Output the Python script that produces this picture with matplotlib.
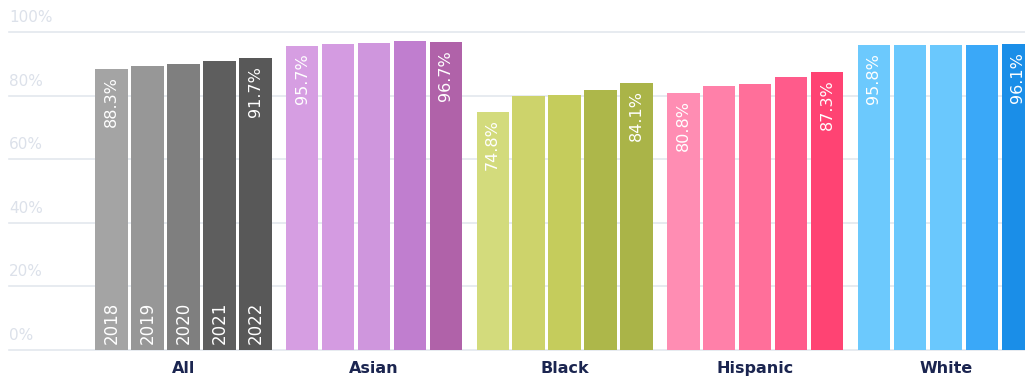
import matplotlib.pyplot as plt

groups = ["All", "Asian", "Black", "Hispanic", "White"]
years = ["2018", "2019", "2020", "2021", "2022"]

rates_all = [88.3, 89.4, 90.0, 91.0, 91.7]
rates_asian = [95.7, 96.2, 96.5, 97.2, 96.7]
rates_black = [74.8, 79.9, 80.2, 81.9, 84.1]
rates_hispanic = [80.8, 82.9, 83.7, 85.8, 87.3]
rates_white = [95.8, 95.9, 96.0, 95.9, 96.1]

colors_all = ["#a4a4a4", "#979797", "#7f7f7f", "#5e5e5e", "#585858"]
colors_asian = ["#d69ee2", "#d49be1", "#cf96dd", "#c07ecf", "#b062a9"]
colors_black = ["#d3db7c", "#cdd36b", "#c5cc5c", "#adb74a", "#aab448"]
colors_hispanic = ["#ff8db3", "#ff80a9", "#ff6f9a", "#ff5b8b", "#ff4373"]
colors_white = ["#6cc9fd", "#6ac8fd", "#6ac8fd", "#3aa8f8", "#1a8ee8"]

all_rates = [rates_all, rates_asian, rates_black, rates_hispanic, rates_white]
all_colors = [colors_all, colors_asian, colors_black, colors_hispanic, colors_white]

fig = plt.figure(figsize=(10.25, 3.83), dpi=100)
ax = fig.add_axes([0, 33 / 383, 1, 318 / 383])
ax.set_xlim(-3.1, 25.4)
ax.set_ylim(0, 100)
ax.axis("off")

# gridlines + light labels
for v in range(0, 101, 20):
    ax.plot([-2.85, 25.4], [v, v], color="#e3e7ee", lw=1.2, zorder=0, clip_on=False)
    ax.text(-2.85, v + 2.2, f"{v}%", color="#dce1ea", fontsize=11, ha="left", va="bottom")

gap = 5.3
for i, name in enumerate(groups):
    xs = [i * gap + j for j in range(5)]
    bars = ax.bar(xs, all_rates[i], width=0.9, color=all_colors[i], zorder=2)
    for j, b in enumerate(bars):
        if i == 0:
            ax.text(xs[j], 2.0, years[j], rotation=90, color="white", fontsize=12,
                    ha="center", va="bottom", zorder=3)
        if j in (0, 4):
            ax.text(xs[j], all_rates[i][j] - 2.3, f"{all_rates[i][j]}%", rotation=90,
                    color="white", fontsize=11.5, ha="center", va="top", zorder=3)
    ax.text(i * gap + 2, -3.5, name, color="#1b2550", fontsize=11.5, fontweight="bold",
            ha="center", va="top", clip_on=False)

fig.savefig("out.png", dpi=100)
